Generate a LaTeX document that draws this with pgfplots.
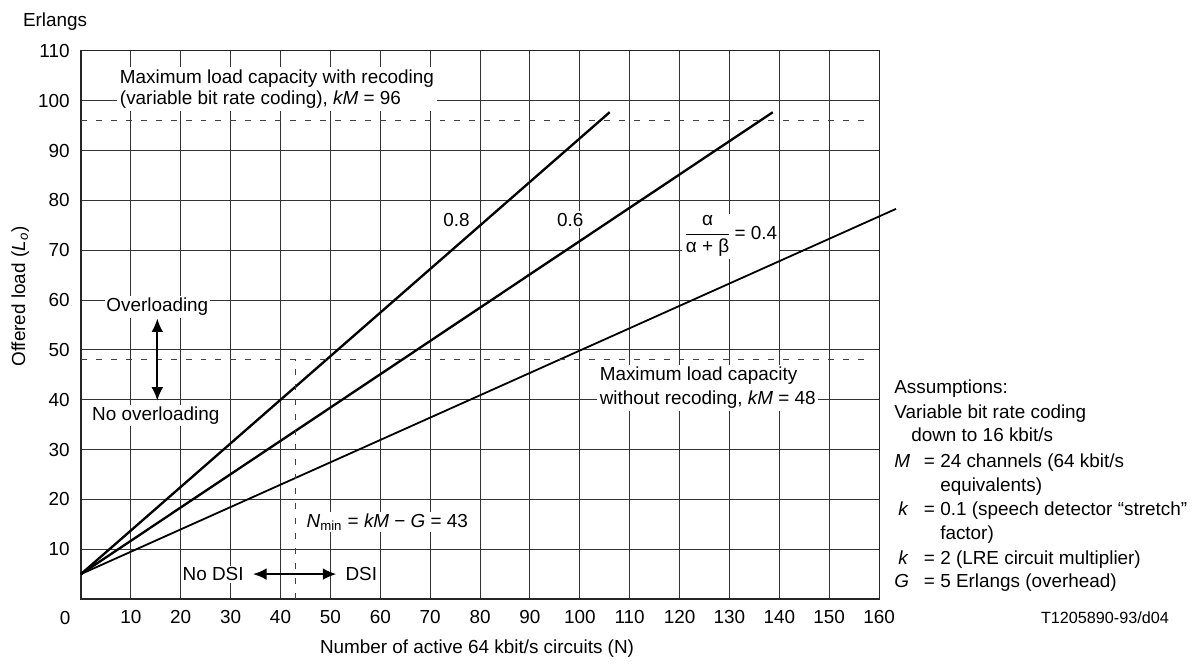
\documentclass[border=0pt]{standalone}
\usepackage{fontspec}
\setmainfont{Liberation Sans}
\usepackage{pgfplots}
\pgfplotsset{compat=1.18}
\usetikzlibrary{arrows.meta}

\begin{document}
\begin{tikzpicture}[font=\fontsize{10.5}{12.5}\selectfont]
\begin{axis}[
  at={(0,0)}, anchor=south west,
  scale only axis, width=443.4pt, height=304.5pt,
  xmin=0, xmax=160, ymin=0, ymax=110,
  xtick={10,20,...,160}, ytick={10,20,...,110},
  grid=major, major grid style={black!80, line width=0.55pt},
  axis line style={black!85, line width=0.6pt},
  major tick length=0pt,
  /pgf/number format/assume math mode=true,
  xticklabel style={yshift=-3pt},
  yticklabel style={xshift=-2.8pt},
  clip=false,
]
% alpha/(alpha+beta) = 0.8, 0.6, 0.4
\addplot[black, line width=1.3pt] coordinates {(0,5) (106,97.7)};
\addplot[black, line width=1.3pt] coordinates {(0,5) (138.7,97.7)};
\addplot[black, line width=1.0pt] coordinates {(0,5) (163.4,78.3)};

% capacity limits
\addplot[black!75, line width=0.4pt, dash pattern=on 3.3pt off 5pt] coordinates {(0,96) (158,96)};
\addplot[black!75, line width=0.4pt, dash pattern=on 3.3pt off 5pt] coordinates {(0,48) (158,48)};
\addplot[black!75, line width=0.4pt, dash pattern=on 3.3pt off 5pt] coordinates {(43,0) (43,48)};

\node[fill=white, inner sep=1.5pt, anchor=west, align=left, font=\fontsize{10.5}{11.7}\selectfont]
  at (axis cs:7.2,102.3) {Maximum load capacity with recoding\\(variable bit rate coding), \textit{kM} = 96};
\node[fill=white, inner sep=1pt] at (axis cs:75.3,76.1) {0.8};
\node[fill=white, inner sep=1pt] at (axis cs:98.1,76.1) {0.6};
\node[fill=white, inner sep=1pt] at (axis cs:130.2,72.8) {$\displaystyle\frac{\mbox{α}}{\mbox{α + β}}$\,= 0.4};

\node[fill=white, inner sep=1pt] at (axis cs:15.3,58.6) {Overloading};
\draw[{Latex[length=7.5pt,width=6.5pt]}-{Latex[length=7.5pt,width=6.5pt]}, line width=1pt]
  (axis cs:15.3,56.3) -- (axis cs:15.3,39.8);
\node[fill=white, inner sep=1pt] at (axis cs:15.0,36.8) {No overloading};

\node[fill=white, inner sep=1pt] at (axis cs:26.5,5.0) {No DSI};
\draw[{Latex[length=7.5pt,width=6.5pt]}-{Latex[length=7.5pt,width=6.5pt]}, line width=1pt]
  (axis cs:34.5,5) -- (axis cs:51.2,5);
\node[fill=white, inner sep=1pt] at (axis cs:56.2,5.0) {DSI};

\node[fill=white, inner sep=1pt, anchor=west] at (axis cs:44.8,15.5)
  {\textit{N}\textsubscript{min} = \textit{kM} − \textit{G} = 43};

\node[fill=white, inner sep=1.5pt, anchor=west, align=left, font=\fontsize{10.5}{13.3}\selectfont]
  at (axis cs:103.4,42.35) {Maximum load capacity\\without recoding, \textit{kM} = 48};

% assumptions block
\node[anchor=base west, inner sep=0pt] at (axis cs:163.0,41.2) {Assumptions:};
\node[anchor=base west, inner sep=0pt] at (axis cs:163.0,36.2) {Variable bit rate coding};
\node[anchor=base west, inner sep=0pt] at (axis cs:166.4,31.6) {down to 16 kbit/s};
\node[anchor=base west, inner sep=0pt] at (axis cs:163.0,26.4) {\textit{M}};
\node[anchor=base west, inner sep=0pt] at (axis cs:168.9,26.4) {=};
\node[anchor=base west, inner sep=0pt] at (axis cs:172.2,26.4) {24 channels (64 kbit/s};
\node[anchor=base west, inner sep=0pt] at (axis cs:172.2,21.6) {equivalents)};
\node[anchor=base west, inner sep=0pt] at (axis cs:163.8,16.7) {\textit{k}};
\node[anchor=base west, inner sep=0pt] at (axis cs:168.9,16.7) {=};
\node[anchor=base west, inner sep=0pt] at (axis cs:172.2,16.7) {0.1 (speech detector “stretch”};
\node[anchor=base west, inner sep=0pt] at (axis cs:172.2,11.9) {factor)};
\node[anchor=base west, inner sep=0pt] at (axis cs:163.8,6.9) {\textit{k}};
\node[anchor=base west, inner sep=0pt] at (axis cs:168.9,6.9) {=};
\node[anchor=base west, inner sep=0pt] at (axis cs:172.2,6.9) {2 (LRE circuit multiplier)};
\node[anchor=base west, inner sep=0pt] at (axis cs:163.0,2.3) {\textit{G}};
\node[anchor=base west, inner sep=0pt] at (axis cs:168.9,2.3) {=};
\node[anchor=base west, inner sep=0pt] at (axis cs:172.2,2.3) {5 Erlangs (overhead)};

\node[font=\fontsize{9}{10}\selectfont] at (axis cs:205.3,-3.8) {T1205890-93/d04};

% outer labels
\node at (axis cs:-3.2,-3.8) {0};
\node at (axis cs:-5.2,115.9) {Erlangs};
\node[rotate=90] at (axis cs:-12.2,60.7) {Offered load (\textit{L}\textsubscript{\textit{o}})};
\node at (axis cs:79.4,-10.0) {Number of active 64 kbit/s circuits (N)};
\end{axis}
\path[use as bounding box] (-45pt,-35pt) rectangle (619.5pt,332.8pt);
\end{tikzpicture}
\end{document}
